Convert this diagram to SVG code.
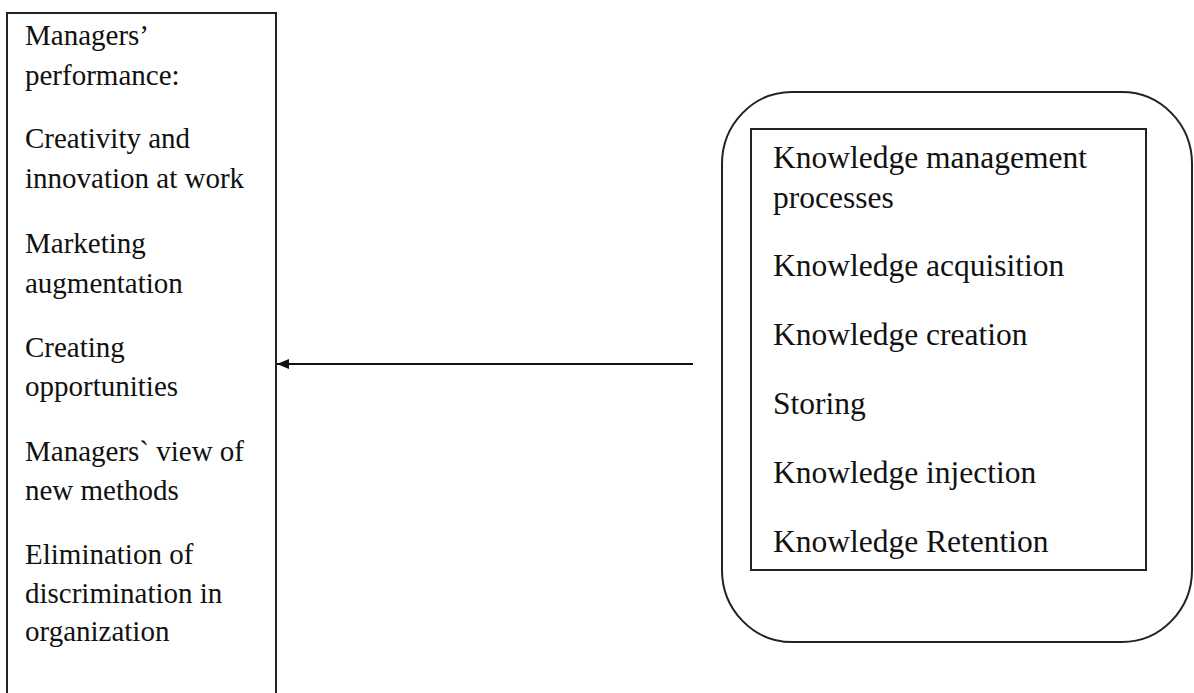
<svg xmlns="http://www.w3.org/2000/svg" width="1194" height="693" viewBox="0 0 1194 693">
<style>
.box{fill:#fff;stroke:#222;stroke-width:2}
.lt{font-size:29px;fill:#111}
.rt{font-size:31.5px;fill:#111}
.conn{stroke:#111;stroke-width:2;fill:none}
</style>
<defs>
<marker id="arr" markerWidth="12" markerHeight="10" refX="12" refY="5" orient="auto" markerUnits="userSpaceOnUse">
<path d="M0,0 L12,5 L0,10 Z" fill="#111"/>
</marker>
</defs>
<rect width="1194" height="693" fill="#fff"/>
<g id="managers-performance" font-family="Liberation Serif, Tinos, Times New Roman, serif">
<rect class="box" x="7" y="13" width="269" height="700"/>
<text class="lt" x="25" y="45">Managers’</text>
<text class="lt" x="25" y="85">performance:</text>
<text class="lt" x="25" y="148">Creativity and</text>
<text class="lt" x="25" y="188">innovation at work</text>
<text class="lt" x="25" y="253">Marketing</text>
<text class="lt" x="25" y="293">augmentation</text>
<text class="lt" x="25" y="357">Creating</text>
<text class="lt" x="25" y="396">opportunities</text>
<text class="lt" x="25" y="461">Managers` view of</text>
<text class="lt" x="25" y="500">new methods</text>
<text class="lt" x="25" y="564">Elimination of</text>
<text class="lt" x="25" y="603">discrimination in</text>
<text class="lt" x="25" y="641">organization</text>
</g>
<g id="knowledge-management" font-family="Liberation Serif, Tinos, Times New Roman, serif">
<rect class="box" x="722" y="92" width="470" height="550" rx="70" ry="72"/>
<rect class="box" x="751" y="129" width="395" height="441"/>
<text class="rt" x="773" y="168">Knowledge management</text>
<text class="rt" x="773" y="208">processes</text>
<text class="rt" x="773" y="276">Knowledge acquisition</text>
<text class="rt" x="773" y="345">Knowledge creation</text>
<text class="rt" x="773" y="414">Storing</text>
<text class="rt" x="773" y="483">Knowledge injection</text>
<text class="rt" x="773" y="552">Knowledge Retention</text>
</g>
<g id="connectors">
<line class="conn" x1="693" y1="364" x2="277" y2="364" marker-end="url(#arr)"/>
</g>
</svg>
